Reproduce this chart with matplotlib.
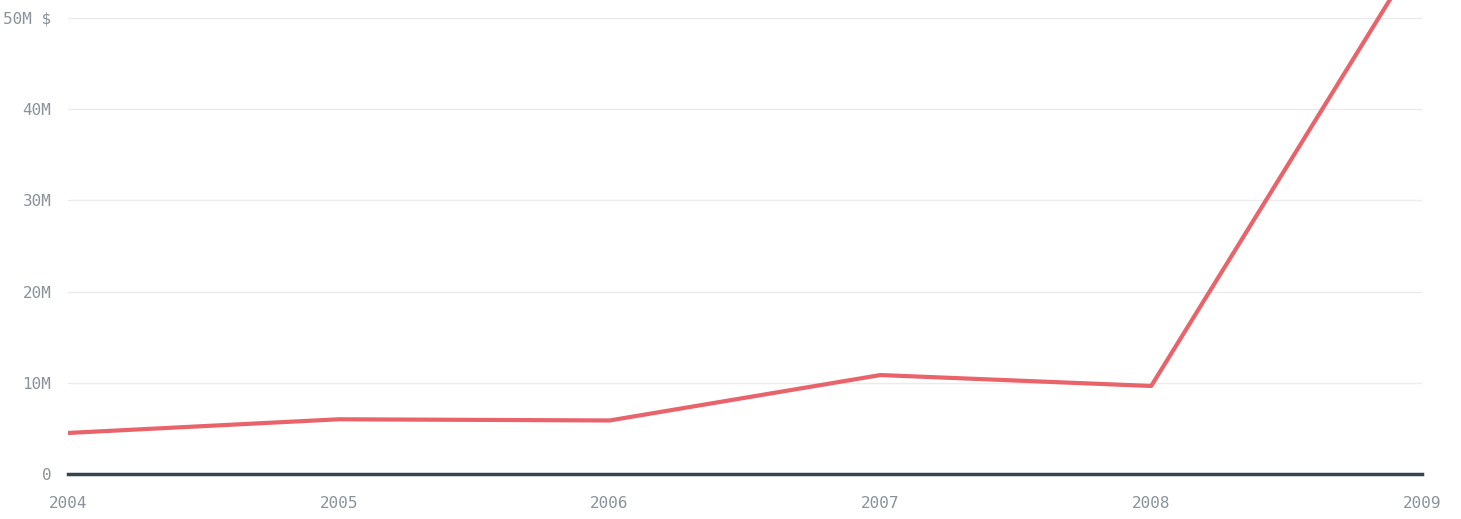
import matplotlib.pyplot as plt
import numpy as np

# Données
years = [2004, 2005, 2006, 2007, 2008, 2009]
values = [4.5, 6.0, 5.87, 10.85, 9.65, 57.7]  # millions $
y_ticks = [0, 10, 20, 30, 40, 50]
y_labels = ['0', '10M', '20M', '30M', '40M', '50M $']

fig = plt.figure(figsize=(14.61, 5.19), dpi=100)
ax = fig.add_axes([68 / 1461, 45 / 519, (1422 - 68) / 1461, 474 / 519])

font = ['DejaVu Sans Mono', 'DejaVu Sans']
grey = '#8a939b'

# Lignes de la grille
for t in y_ticks[1:]:
    ax.axhline(t, color='#ebebeb', lw=1, zorder=1)
ax.axhline(0, color='#37434f', lw=2.5, zorder=3, clip_on=False)

ax.plot(years, values, color='#e8636a', lw=3, zorder=4, solid_capstyle='butt')

ax.set_xlim(2004, 2009)
ax.set_ylim(0, 474 / 91.2 * 10)

for s in ax.spines.values():
    s.set_visible(False)
ax.tick_params(length=0)
ax.set_xticks(years)
ax.set_xticklabels([str(y) for y in years], color=grey, fontsize=11.5, family=font)
ax.tick_params(axis='x', pad=16)
ax.set_yticks(y_ticks)
ax.set_yticklabels(y_labels, color=grey, fontsize=11.5, family=font)
ax.tick_params(axis='y', pad=12)

fig.savefig('out.png', dpi=100)
